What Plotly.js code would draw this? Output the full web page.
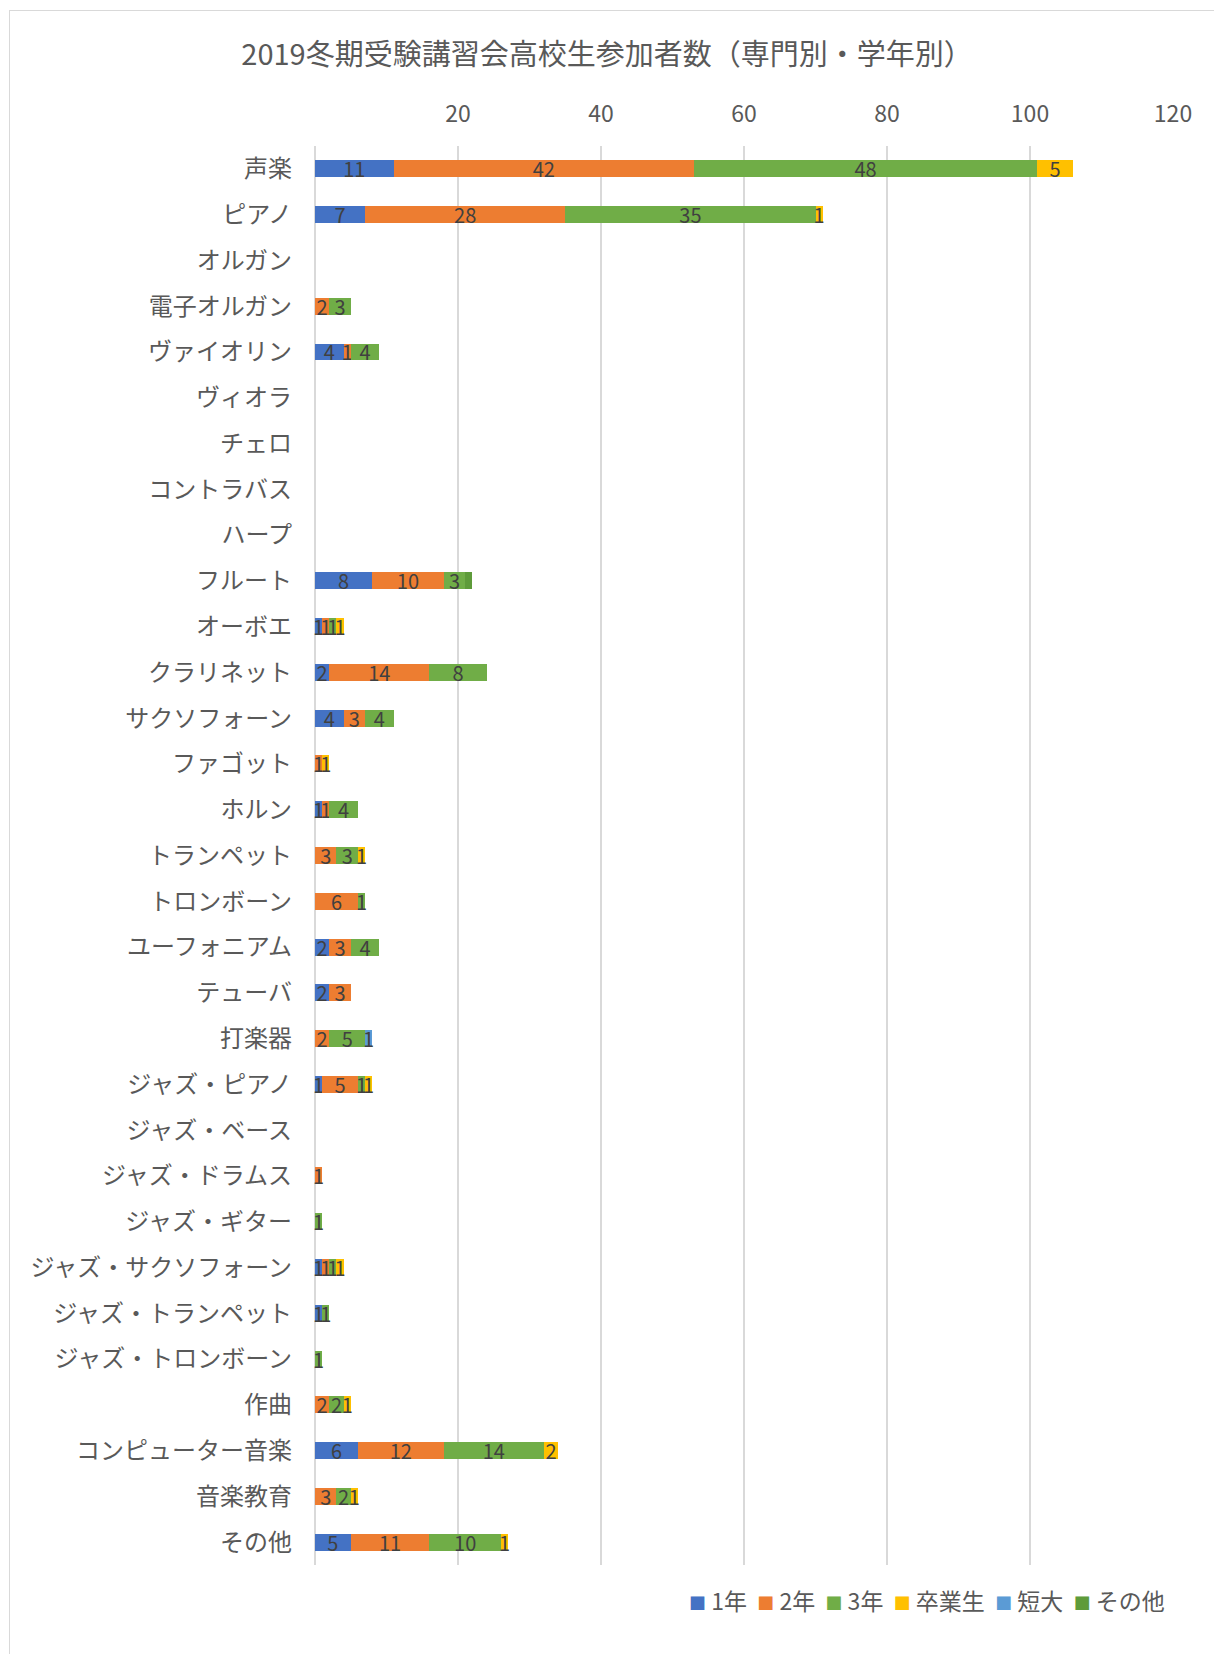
<!DOCTYPE html>
<html>
<head>
<meta charset="utf-8">
<script src="https://cdn.plot.ly/plotly-3.0.1.min.js"></script>
<style>
  html, body { margin: 0; padding: 0; background: #fff; }
  #wrap { position: relative; width: 1214px; height: 1654px; }
  #chart { position: absolute; left: 0; top: 0; width: 1214px; height: 1654px; }
  #frame { position: absolute; left: 9px; top: 10px; width: 1210px; height: 1650px; border: 1px solid #d9d9d9; pointer-events: none; }
</style>
</head>
<body>
<div id="wrap">
  <div id="chart"></div>
  <div id="frame"></div>
</div>
<script>
const categories = ["声楽","ピアノ","オルガン","電子オルガン","ヴァイオリン","ヴィオラ","チェロ","コントラバス","ハープ","フルート","オーボエ","クラリネット","サクソフォーン","ファゴット","ホルン","トランペット","トロンボーン","ユーフォニアム","テューバ","打楽器","ジャズ・ピアノ","ジャズ・ベース","ジャズ・ドラムス","ジャズ・ギター","ジャズ・サクソフォーン","ジャズ・トランペット","ジャズ・トロンボーン","作曲","コンピューター音楽","音楽教育","その他"];

const seriesNames = ["1年","2年","3年","卒業生","短大","その他"];

const year1    = [11,7,0,0,4,0,0,0,0,8,1,2,4,0,1,0,0,2,2,0,1,0,0,0,1,1,0,0,6,0,5];
const year2    = [42,28,0,2,1,0,0,0,0,10,1,14,3,1,1,3,6,3,3,2,5,0,1,0,1,0,0,2,12,3,11];
const year3    = [48,35,0,3,4,0,0,0,0,3,1,8,4,0,4,3,1,4,0,5,1,0,0,1,1,1,1,2,14,2,10];
const graduate = [5,1,0,0,0,0,0,0,0,0,1,0,0,1,0,1,0,0,0,0,1,0,0,0,1,0,0,1,2,1,1];
const junior   = [0,0,0,0,0,0,0,0,0,0,0,0,0,0,0,0,0,0,0,1,0,0,0,0,0,0,0,0,0,0,0];
const other    = [0,0,0,0,0,0,0,0,0,1,0,0,0,0,0,0,0,0,0,0,0,0,0,0,0,0,0,0,0,0,0];

const tickValues = [20,40,60,80,100,120];
const tickLabels = ["20","40","60","80","100","120"];

const colors = ["#4472C4","#ED7D31","#70AD47","#FFC000","#5B9BD5","#5E9B3A"];
const showLabels = [true,true,true,true,true,false];
const allSeries = [year1, year2, year3, graduate, junior, other];

const FONT = '"Noto Sans CJK JP", "Noto Sans", sans-serif';

const traces = allSeries.map((vals, i) => ({
  type: 'bar',
  orientation: 'h',
  name: seriesNames[i],
  y: categories,
  x: vals.map(v => v === 0 ? null : v),
  text: vals.map(v => (v === 0 || !showLabels[i]) ? '' : String(v)),
  textposition: 'inside',
  insidetextanchor: 'middle',
  constraintext: 'none',
  textangle: 0,
  textfont: { family: FONT, size: 20, color: '#404040' },
  marker: { color: colors[i], line: { width: 0 } },
  hoverinfo: 'x+y+name',
  cliponaxis: false,
  showlegend: false
}));

// custom legend (small squares close to text, like the original)
const legendText = seriesNames.map((n, i) =>
  '<span style="color:' + colors[i] + ';font-size:17px">■</span> ' + n
).join('&nbsp;&nbsp;');

const layout = {
  width: 1214,
  height: 1654,
  margin: { l: 315, r: 41, t: 146, b: 89 },
  paper_bgcolor: '#ffffff',
  plot_bgcolor: '#ffffff',
  barmode: 'stack',
  bargap: 0.63,
  showlegend: false,
  title: {
    text: '2019冬期受験講習会高校生参加者数（専門別・学年別）',
    font: { family: FONT, size: 29, color: '#595959' },
    x: 0.5, xanchor: 'center',
    y: 1 - 55/1654, yanchor: 'middle',
    xref: 'container'
  },
  xaxis: {
    side: 'top',
    range: [0, 120],
    tickvals: tickValues,
    ticktext: tickLabels,
    showgrid: true,
    gridcolor: '#D9D9D9',
    gridwidth: 2,
    zeroline: true,
    zerolinecolor: '#D9D9D9',
    zerolinewidth: 2,
    showline: false,
    ticks: '',
    ticklabelstandoff: 18,
    tickfont: { family: FONT, size: 23, color: '#595959' },
    fixedrange: true
  },
  yaxis: {
    type: 'category',
    autorange: 'reversed',
    showgrid: false,
    zeroline: false,
    showline: false,
    ticks: '',
    ticklabelstandoff: 22,
    tickfont: { family: FONT, size: 24, color: '#595959' },
    fixedrange: true
  },
  annotations: [{
    xref: 'paper', yref: 'paper',
    x: (1167 - 315) / 858, xanchor: 'right',
    y: -35 / 1419, yanchor: 'middle',
    text: legendText,
    showarrow: false,
    font: { family: FONT, size: 23, color: '#595959' }
  }],
  font: { family: FONT, color: '#595959' }
};

Plotly.newPlot('chart', traces, layout, { displayModeBar: false, staticPlot: true });
</script>
</body>
</html>
